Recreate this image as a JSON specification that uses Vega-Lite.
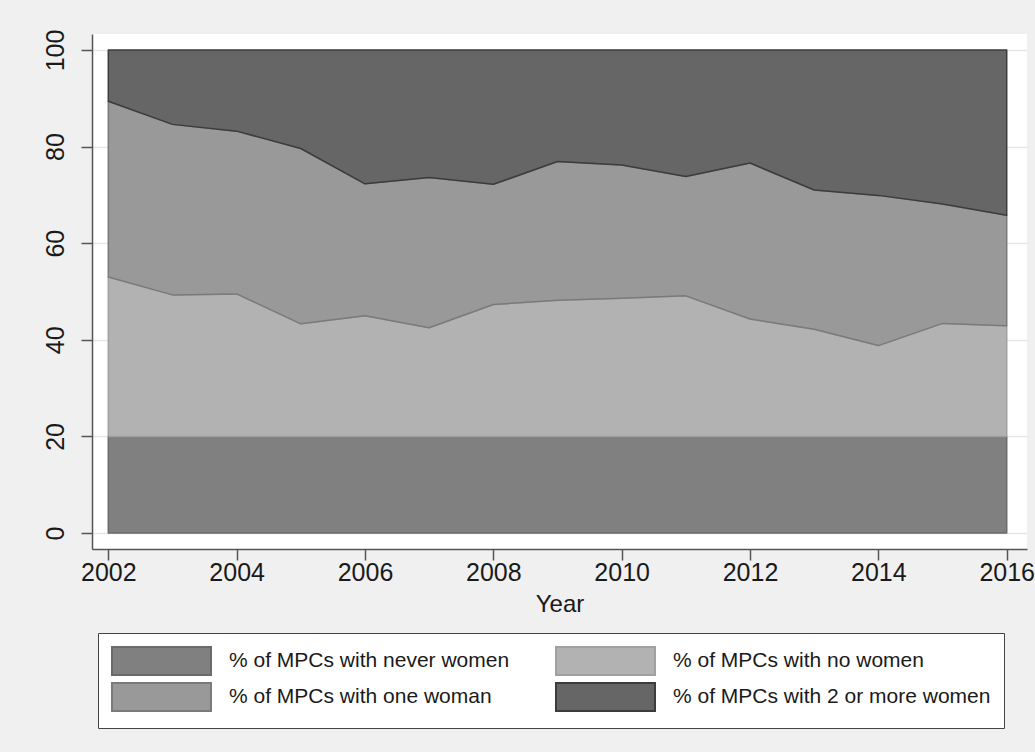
{
  "$schema": "https://vega.github.io/schema/vega-lite/v6.json",
  "autosize": "none",
  "width": 935,
  "height": 515,
  "padding": {"left": 92, "top": 34, "right": 8, "bottom": 203},
  "background": "#f0f0f0",
  "config": {
    "view": {"fill": "white", "stroke": null},
    "font": "Liberation Sans",
    "axis": {"labelFont": "Liberation Sans", "titleFont": "Liberation Sans", "labelColor": "#1a1a1a", "titleColor": "#1a1a1a", "domainColor": "#555555", "tickColor": "#555555", "domainWidth": 1.5, "tickWidth": 1.5},
    "legend": {"title": null, "orient": "none", "legendX": 6, "legendY": 599, "direction": "horizontal", "columns": 2, "columnPadding": 42, "rowPadding": 0, "padding": 13, "fillColor": "white", "strokeColor": "#444444", "symbolType": "M-1,-1H6.07V1H-1Z", "symbolSize": 784, "symbolStrokeWidth": 2, "labelOffset": 88, "labelFontSize": 21, "labelFont": "Liberation Sans", "labelColor": "#1a1a1a", "labelLimit": 500}
  },
  "data": {
    "values": [
      {"year": 2002, "cat": "% of MPCs with never women", "k": 1, "pct": 20},
      {"year": 2003, "cat": "% of MPCs with never women", "k": 1, "pct": 20},
      {"year": 2004, "cat": "% of MPCs with never women", "k": 1, "pct": 20},
      {"year": 2005, "cat": "% of MPCs with never women", "k": 1, "pct": 20},
      {"year": 2006, "cat": "% of MPCs with never women", "k": 1, "pct": 20},
      {"year": 2007, "cat": "% of MPCs with never women", "k": 1, "pct": 20},
      {"year": 2008, "cat": "% of MPCs with never women", "k": 1, "pct": 20},
      {"year": 2009, "cat": "% of MPCs with never women", "k": 1, "pct": 20},
      {"year": 2010, "cat": "% of MPCs with never women", "k": 1, "pct": 20},
      {"year": 2011, "cat": "% of MPCs with never women", "k": 1, "pct": 20},
      {"year": 2012, "cat": "% of MPCs with never women", "k": 1, "pct": 20},
      {"year": 2013, "cat": "% of MPCs with never women", "k": 1, "pct": 20},
      {"year": 2014, "cat": "% of MPCs with never women", "k": 1, "pct": 20},
      {"year": 2015, "cat": "% of MPCs with never women", "k": 1, "pct": 20},
      {"year": 2016, "cat": "% of MPCs with never women", "k": 1, "pct": 20},
      {"year": 2002, "cat": "% of MPCs with no women", "k": 2, "pct": 33.0},
      {"year": 2003, "cat": "% of MPCs with no women", "k": 2, "pct": 29.3},
      {"year": 2004, "cat": "% of MPCs with no women", "k": 2, "pct": 29.5},
      {"year": 2005, "cat": "% of MPCs with no women", "k": 2, "pct": 23.3},
      {"year": 2006, "cat": "% of MPCs with no women", "k": 2, "pct": 25.0},
      {"year": 2007, "cat": "% of MPCs with no women", "k": 2, "pct": 22.5},
      {"year": 2008, "cat": "% of MPCs with no women", "k": 2, "pct": 27.3},
      {"year": 2009, "cat": "% of MPCs with no women", "k": 2, "pct": 28.2},
      {"year": 2010, "cat": "% of MPCs with no women", "k": 2, "pct": 28.6},
      {"year": 2011, "cat": "% of MPCs with no women", "k": 2, "pct": 29.1},
      {"year": 2012, "cat": "% of MPCs with no women", "k": 2, "pct": 24.3},
      {"year": 2013, "cat": "% of MPCs with no women", "k": 2, "pct": 22.2},
      {"year": 2014, "cat": "% of MPCs with no women", "k": 2, "pct": 18.8},
      {"year": 2015, "cat": "% of MPCs with no women", "k": 2, "pct": 23.4},
      {"year": 2016, "cat": "% of MPCs with no women", "k": 2, "pct": 22.9},
      {"year": 2002, "cat": "% of MPCs with one woman", "k": 3, "pct": 36.4},
      {"year": 2003, "cat": "% of MPCs with one woman", "k": 3, "pct": 35.3},
      {"year": 2004, "cat": "% of MPCs with one woman", "k": 3, "pct": 33.7},
      {"year": 2005, "cat": "% of MPCs with one woman", "k": 3, "pct": 36.3},
      {"year": 2006, "cat": "% of MPCs with one woman", "k": 3, "pct": 27.3},
      {"year": 2007, "cat": "% of MPCs with one woman", "k": 3, "pct": 31.1},
      {"year": 2008, "cat": "% of MPCs with one woman", "k": 3, "pct": 24.9},
      {"year": 2009, "cat": "% of MPCs with one woman", "k": 3, "pct": 28.7},
      {"year": 2010, "cat": "% of MPCs with one woman", "k": 3, "pct": 27.6},
      {"year": 2011, "cat": "% of MPCs with one woman", "k": 3, "pct": 24.7},
      {"year": 2012, "cat": "% of MPCs with one woman", "k": 3, "pct": 32.3},
      {"year": 2013, "cat": "% of MPCs with one woman", "k": 3, "pct": 28.8},
      {"year": 2014, "cat": "% of MPCs with one woman", "k": 3, "pct": 31.1},
      {"year": 2015, "cat": "% of MPCs with one woman", "k": 3, "pct": 24.7},
      {"year": 2016, "cat": "% of MPCs with one woman", "k": 3, "pct": 22.9},
      {"year": 2002, "cat": "% of MPCs with 2 or more women", "k": 4, "pct": 10.6},
      {"year": 2003, "cat": "% of MPCs with 2 or more women", "k": 4, "pct": 15.4},
      {"year": 2004, "cat": "% of MPCs with 2 or more women", "k": 4, "pct": 16.8},
      {"year": 2005, "cat": "% of MPCs with 2 or more women", "k": 4, "pct": 20.4},
      {"year": 2006, "cat": "% of MPCs with 2 or more women", "k": 4, "pct": 27.7},
      {"year": 2007, "cat": "% of MPCs with 2 or more women", "k": 4, "pct": 26.4},
      {"year": 2008, "cat": "% of MPCs with 2 or more women", "k": 4, "pct": 27.8},
      {"year": 2009, "cat": "% of MPCs with 2 or more women", "k": 4, "pct": 23.1},
      {"year": 2010, "cat": "% of MPCs with 2 or more women", "k": 4, "pct": 23.8},
      {"year": 2011, "cat": "% of MPCs with 2 or more women", "k": 4, "pct": 26.2},
      {"year": 2012, "cat": "% of MPCs with 2 or more women", "k": 4, "pct": 23.4},
      {"year": 2013, "cat": "% of MPCs with 2 or more women", "k": 4, "pct": 29.0},
      {"year": 2014, "cat": "% of MPCs with 2 or more women", "k": 4, "pct": 30.1},
      {"year": 2015, "cat": "% of MPCs with 2 or more women", "k": 4, "pct": 31.9},
      {"year": 2016, "cat": "% of MPCs with 2 or more women", "k": 4, "pct": 34.2}
    ]
  },
  "mark": {"type": "area", "strokeWidth": 1.5, "fillOpacity": 1, "strokeJoin": "round"},
  "encoding": {
    "x": {
      "field": "year", "type": "quantitative",
      "scale": {"domain": [2001.746, 2016.316], "nice": false, "zero": false},
      "axis": {"values": [2002, 2004, 2006, 2008, 2010, 2012, 2014, 2016], "format": "d", "grid": false, "title": "Year", "labelFontSize": 25, "titleFontSize": 24, "titleFontWeight": "normal", "tickSize": 11, "labelPadding": 0, "titlePadding": 7, "labelFlush": false, "labelOverlap": false}
    },
    "y": {
      "field": "pct", "type": "quantitative", "stack": "zero",
      "scale": {"domain": [-3.31, 103.31], "nice": false, "zero": false},
      "axis": {"values": [0, 20, 40, 60, 80, 100], "title": null, "labelFontSize": 25, "labelAngle": -90, "labelAlign": "center", "labelBaseline": "bottom", "tickSize": 11, "labelPadding": 13, "grid": true, "gridColor": "#e6e6e6", "gridWidth": 1.5, "labelFlush": false, "labelOverlap": false}
    },
    "order": {"field": "k", "type": "quantitative"},
    "fill": {
      "field": "cat", "type": "nominal",
      "scale": {"domain": ["% of MPCs with never women", "% of MPCs with no women", "% of MPCs with one woman", "% of MPCs with 2 or more women"], "range": ["#808080", "#b2b2b2", "#999999", "#666666"]}
    },
    "stroke": {
      "field": "cat", "type": "nominal",
      "scale": {"domain": ["% of MPCs with never women", "% of MPCs with no women", "% of MPCs with one woman", "% of MPCs with 2 or more women"], "range": ["#6a6a6a", "#a0a0a0", "#7a7a7a", "#3c3c3c"]}
    }
  }
}
